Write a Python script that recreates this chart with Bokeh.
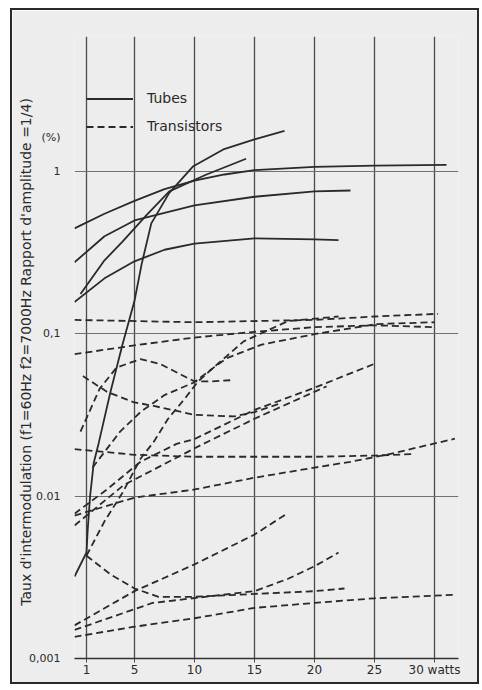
from bokeh.plotting import figure
from bokeh.models import FixedTicker, Legend, LegendItem, Range1d, ColumnDataSource
from bokeh.embed import file_html
from bokeh.resources import INLINE

# ---------------- data ----------------
# Tubes (solid)
tube_a_x = [0, 1, 1.1, 1.3, 1.6, 2, 3, 4, 5, 5.6, 6.4, 7.9, 9.9, 12.4, 15, 17.5]
tube_a_y = [0.0032, 0.0045, 0.0062, 0.010, 0.016, 0.021, 0.044, 0.086, 0.16, 0.27, 0.48, 0.74, 1.08, 1.37, 1.58, 1.78]
tube_b_x = [0.5, 2.5, 4, 6, 7.9, 11, 14.3]
tube_b_y = [0.176, 0.284, 0.37, 0.54, 0.755, 0.96, 1.2]
tube_c_x = [0, 2.5, 5, 7.5, 10, 12.5, 15, 20, 25, 31]
tube_c_y = [0.447, 0.55, 0.66, 0.78, 0.88, 0.96, 1.02, 1.07, 1.09, 1.1]
tube_d_x = [0, 2.5, 5, 10, 15, 20, 23]
tube_d_y = [0.276, 0.40, 0.50, 0.62, 0.70, 0.755, 0.765]
tube_e_x = [0, 2.5, 5, 7.5, 10, 15, 20, 22]
tube_e_y = [0.157, 0.22, 0.28, 0.33, 0.36, 0.388, 0.382, 0.378]

# Transistors (dashed)
tr_1_x = [0, 10, 20, 25, 30.3]
tr_1_y = [0.122, 0.118, 0.122, 0.128, 0.133]
tr_2_x = [0, 5, 10, 15, 20, 25, 30]
tr_2_y = [0.075, 0.085, 0.095, 0.103, 0.11, 0.113, 0.11]
tr_3_x = [1, 2.5, 4, 5.5, 6.6, 7.8, 9.2, 10.3, 12, 14.1, 17.8, 22]
tr_3_y = [0.0043, 0.007, 0.0105, 0.017, 0.0216, 0.030, 0.040, 0.051, 0.066, 0.09, 0.12, 0.128]
tr_4_x = [1.5, 3.8, 5.5, 7.5, 9.9, 11.6, 12.7, 15.6, 20.1, 25.2, 30]
tr_4_y = [0.015, 0.025, 0.033, 0.042, 0.05, 0.062, 0.071, 0.086, 0.10, 0.115, 0.118]
tr_5_x = [0.5, 2.1, 3.5, 5.5, 7.2, 8.9, 10, 11.5, 13.3]
tr_5_y = [0.025, 0.046, 0.062, 0.070, 0.065, 0.056, 0.051, 0.051, 0.052]
tr_6_x = [0.7, 2.7, 4.9, 6.6, 10, 13.3, 15, 17]
tr_6_y = [0.055, 0.044, 0.038, 0.036, 0.0317, 0.031, 0.033, 0.037]
tr_7_x = [0, 2.7, 5.5, 8.5, 10, 15, 19.8, 24.9]
tr_7_y = [0.0078, 0.011, 0.0163, 0.021, 0.0225, 0.034, 0.046, 0.065]
tr_8_x = [0, 4.1, 10.5, 15, 21]
tr_8_y = [0.0066, 0.0117, 0.0206, 0.030, 0.0475]
tr_9_x = [0, 5, 10, 15, 20, 23, 26, 31.7]
tr_9_y = [0.0076, 0.0098, 0.011, 0.013, 0.015, 0.0163, 0.018, 0.0226]
tr_10_x = [0, 5, 10, 15, 20, 25, 28.3]
tr_10_y = [0.0195, 0.018, 0.0175, 0.0175, 0.0175, 0.0178, 0.0182]
tr_11_x = [1, 3, 5, 7, 10, 15, 20, 22.5]
tr_11_y = [0.0043, 0.0033, 0.0027, 0.0024, 0.0024, 0.0025, 0.0026, 0.0027]
tr_12_x = [0, 5, 10, 15, 17.8]
tr_12_y = [0.0016, 0.0026, 0.0038, 0.0058, 0.0079]
tr_13_x = [0, 6.5, 15, 17.8, 20, 22]
tr_13_y = [0.0015, 0.0022, 0.0026, 0.0031, 0.0037, 0.0045]
tr_14_x = [0, 5, 10, 15, 20, 25, 31.8]
tr_14_y = [0.00136, 0.00157, 0.00177, 0.00205, 0.0022, 0.00235, 0.00247]

x_ticks = [1, 5, 10, 15, 20, 25, 30]
x_grid = [0, 1, 5, 10, 15, 20, 25, 30]
x_labels = {30: "30 watts"}
y_ticks = [0.001, 0.01, 0.1, 1, 1.63]
y_grid = [0.01, 0.1, 1]
y_labels = {0.001: "0,001", 0.01: "0.01", 0.1: "0,1", 1: "1", 1.63: "(%)"}
y_title = "Taux d'intermodulation (f1=60Hz  f2=7000Hz  Rapport d'amplitude =1/4)"
series_names = ["Tubes", "Transistors"]

tubes = ColumnDataSource(dict(
    xs=[tube_a_x, tube_b_x, tube_c_x, tube_d_x, tube_e_x],
    ys=[tube_a_y, tube_b_y, tube_c_y, tube_d_y, tube_e_y]))
trans = ColumnDataSource(dict(
    xs=[tr_1_x, tr_2_x, tr_3_x, tr_4_x, tr_5_x, tr_6_x, tr_7_x, tr_8_x,
        tr_9_x, tr_10_x, tr_11_x, tr_12_x, tr_13_x, tr_14_x],
    ys=[tr_1_y, tr_2_y, tr_3_y, tr_4_y, tr_5_y, tr_6_y, tr_7_y, tr_8_y,
        tr_9_y, tr_10_y, tr_11_y, tr_12_y, tr_13_y, tr_14_y]))

FONT = "DejaVu Sans"
INK = "#2a2a2a"
PAPER = "#ededed"
W, H = 469, 676

p = figure(width=W, height=H, x_range=Range1d(0, 32), y_range=Range1d(0.001, 6.8),
           y_axis_type="log", output_backend="svg", toolbar_location=None,
           min_border_left=62, min_border_right=23, min_border_top=26, min_border_bottom=28)
p.styles = {"border": "2.5px solid #2a2a2a", "position": "absolute",
            "left": "10px", "top": "8px"}
p.background_fill_color = PAPER
p.border_fill_color = PAPER
p.outline_line_color = None

# grid
p.xgrid.ticker = FixedTicker(ticks=x_grid)
p.xgrid.grid_line_color = "#4a4a4a"
p.xgrid.grid_line_width = 1.3
p.ygrid.ticker = FixedTicker(ticks=y_grid)
p.ygrid.grid_line_color = "#707070"
p.ygrid.grid_line_width = 1.2

# x axis
p.xaxis.ticker = FixedTicker(ticks=x_ticks)
p.xaxis.major_label_overrides = x_labels
p.xaxis.axis_line_color = "#333333"
p.xaxis.axis_line_width = 1.5
p.xaxis.major_tick_line_color = "#4a4a4a"
p.xaxis.major_tick_in = 0
p.xaxis.major_tick_out = 4
p.xaxis.minor_tick_line_color = None
p.xaxis.major_label_standoff = 0
p.xaxis.major_label_text_font = FONT
p.xaxis.major_label_text_font_size = "12px"
p.xaxis.major_label_text_color = INK

# y axis
p.yaxis.ticker = FixedTicker(ticks=y_ticks)
p.yaxis.major_label_overrides = y_labels
p.yaxis.axis_line_color = None
p.yaxis.major_tick_line_color = None
p.yaxis.minor_tick_line_color = None
p.yaxis.major_label_standoff = 8
p.yaxis.major_label_text_font = FONT
p.yaxis.major_label_text_font_size = "11px"
p.yaxis.major_label_text_color = INK
p.yaxis.axis_label = y_title
p.yaxis.axis_label_text_font = FONT
p.yaxis.axis_label_text_font_size = "14px"
p.yaxis.axis_label_text_font_style = "normal"
p.yaxis.axis_label_text_color = INK
p.yaxis.axis_label_standoff = -8

r_tubes = p.multi_line(xs="xs", ys="ys", source=tubes, line_color=INK, line_width=1.8)
r_trans = p.multi_line(xs="xs", ys="ys", source=trans, line_color=INK, line_width=1.8,
                       line_dash="7 4")

legend = Legend(items=[LegendItem(label=series_names[0], renderers=[r_tubes]),
                       LegendItem(label=series_names[1], renderers=[r_trans])],
                location=(12, 524), glyph_width=47, glyph_height=15, label_height=15,
                spacing=12, padding=0, margin=0, label_standoff=14,
                background_fill_alpha=0, border_line_alpha=0,
                label_text_font=FONT, label_text_font_size="14px", label_text_color=INK)
p.add_layout(legend)

open("out.html", "w").write(file_html(p, INLINE))
